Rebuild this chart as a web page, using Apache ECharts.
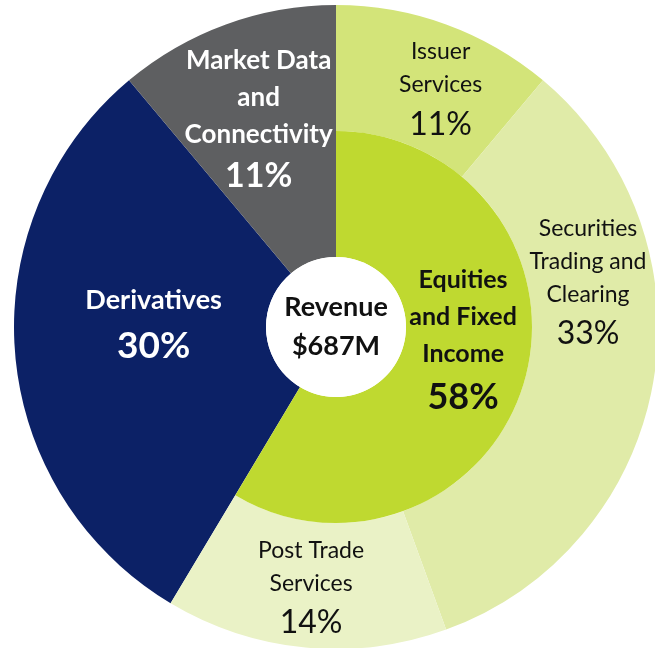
<!DOCTYPE html>
<html>
<head>
<meta charset="utf-8">
<script src="https://cdn.jsdelivr.net/npm/echarts@6/dist/echarts.min.js"></script>
<style>
  html, body { margin: 0; padding: 0; background: #fff; }
  #chart { width: 655px; height: 648px; }
</style>
</head>
<body>
<div id="chart"></div>
<script>
// 营收构成数据
const segments = ["Equities and Fixed Income", "Derivatives", "Market Data and Connectivity"];
const segmentShare = [58, 30, 11];
const segmentLines = [["Equities", "and Fixed", "Income"], ["Derivatives"], ["Market Data", "and", "Connectivity"]];

const subSegments = ["Issuer Services", "Securities Trading and Clearing", "Post Trade Services"];
const subShare = [11, 33, 14];
const subLines = [["Issuer", "Services"], ["Securities", "Trading and", "Clearing"], ["Post Trade", "Services"]];

const centerLines = ["Revenue", "$687M"];

const colors = {
  equities: "#bfd930",
  derivatives: "#0c2166",
  market: "#5e5f61",
  issuer: "#d3e479",
  securities: "#e0eba8",
  postTrade: "#eaf2c6",
};

const FONT = "Lato";
const center = [336, 327];

// style: n 普通黑字, b 粗体黑字, w 粗体白字, d Derivatives
function fmt(lines, pct, style) {
  return lines.map((l) => `{${style}|${l}}`).join("\n") + `\n{${style}p|${pct}%}`;
}

const rich = {
  n: { fontFamily: FONT, fontSize: 23, lineHeight: 33, color: "#111" },
  np: { fontFamily: FONT, fontSize: 32, lineHeight: 46, color: "#111" },
  b: { fontFamily: FONT, fontSize: 25, fontWeight: "bold", lineHeight: 37, color: "#111" },
  bp: { fontFamily: FONT, fontSize: 36, fontWeight: "bold", lineHeight: 50, color: "#111" },
  w: { fontFamily: FONT, fontSize: 26, fontWeight: "bold", lineHeight: 37, color: "#fff" },
  wp: { fontFamily: FONT, fontSize: 34, fontWeight: "bold", lineHeight: 46, color: "#fff" },
  d: { fontFamily: FONT, fontSize: 27, fontWeight: "bold", lineHeight: 40, color: "#fff" },
  dp: { fontFamily: FONT, fontSize: 37, fontWeight: "bold", lineHeight: 50, color: "#fff" },
};

const clear = { color: "rgba(0,0,0,0)" };
const noLabel = { show: false };
const greenTotal = segmentShare[0];
const rest = segmentShare[1] + segmentShare[2];

const myChart = echarts.init(document.getElementById("chart"));
myChart.setOption({
  animation: false,
  series: [
    // 深蓝、灰色两块整环
    {
      type: "pie",
      center,
      radius: [70, 322],
      silent: true,
      label: { show: true, position: "inside", rich },
      labelLine: { show: false },
      data: [
        { name: segments[0], value: segmentShare[0], itemStyle: clear, label: noLabel },
        {
          name: segments[1], value: segmentShare[1],
          itemStyle: { color: colors.derivatives },
          label: {
            formatter: fmt(segmentLines[1], segmentShare[1], "d"),
            padding: [0, 0, 34, 32],
          },
        },
        { name: segments[2], value: segmentShare[2], itemStyle: { color: colors.market }, label: noLabel },
      ],
    },
    // 外环：三个子业务
    {
      type: "pie",
      center,
      radius: [196, 322],
      silent: true,
      label: { show: true, position: "inside", rich },
      labelLine: { show: false },
      data: [
        {
          name: subSegments[0], value: subShare[0],
          itemStyle: { color: colors.issuer },
          label: { formatter: fmt(subLines[0], subShare[0], "n"), padding: [21, 0, 0, 30] },
        },
        {
          name: subSegments[1], value: subShare[1],
          itemStyle: { color: colors.securities },
          label: { formatter: fmt(subLines[1], subShare[1], "n"), padding: [0, 12, 176, 0] },
        },
        {
          name: subSegments[2], value: subShare[2],
          itemStyle: { color: colors.postTrade },
          label: { formatter: fmt(subLines[2], subShare[2], "n"), padding: [4, 0, 0, 0] },
        },
        { name: "", value: rest, itemStyle: clear, label: noLabel },
      ],
    },
    // 内环：Equities
    {
      type: "pie",
      center,
      radius: [70, 196],
      silent: true,
      label: { show: true, position: "inside", rich },
      labelLine: { show: false },
      data: [
        {
          name: segments[0], value: greenTotal,
          itemStyle: { color: colors.equities },
          label: {
            formatter: fmt(segmentLines[0], segmentShare[0], "b"),
            padding: [0, 8, 42, 0],
          },
        },
        { name: "", value: rest, itemStyle: clear, label: noLabel },
      ],
    },
    // Market Data 的标签单独放一层
    {
      type: "pie",
      center,
      radius: [136, 322],
      silent: true,
      label: { show: true, position: "inside", rich },
      labelLine: { show: false },
      data: [
        { name: "", value: greenTotal + segmentShare[1], itemStyle: clear, label: noLabel },
        {
          name: segments[2], value: segmentShare[2],
          itemStyle: clear,
          label: { formatter: fmt(segmentLines[2], segmentShare[2], "w"), padding: [24, 0, 0, 4] },
        },
      ],
    },
    // 中心白圆
    {
      type: "pie",
      center,
      radius: [0, 70],
      silent: true,
      label: {
        show: true,
        position: "center",
        formatter: centerLines.map((l) => `{c|${l}}`).join("\n"),
        rich: { c: { fontFamily: FONT, fontSize: 27, fontWeight: "bold", lineHeight: 39, color: "#111" } },
      },
      labelLine: { show: false },
      data: [{ name: "Revenue", value: 1, itemStyle: { color: "#fff" } }],
    },
  ],
});
</script>
</body>
</html>
